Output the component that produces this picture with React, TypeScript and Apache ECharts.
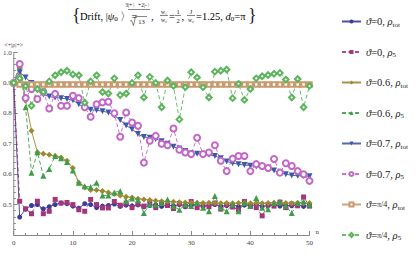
import React, { useEffect, useRef } from "react";
import * as echarts from "echarts";

const nValues = [0,1,2,3,4,5,6,7,8,9,10,11,12,13,14,15,16,17,18,19,20,21,22,23,24,25,26,27,28,29,30,31,32,33,34,35,36,37,38,39,40,41,42,43,44,45,46,47,48,49,50];

const theta0Tot = [0.9,0.459,0.485,0.497,0.5,0.486,0.493,0.5,0.505,0.503,0.495,0.488,0.503,0.5,0.49,0.495,0.497,0.502,0.494,0.498,0.496,0.499,0.493,0.497,0.5,0.494,0.498,0.496,0.5,0.493,0.497,0.499,0.494,0.497,0.5,0.495,0.497,0.499,0.494,0.498,0.496,0.5,0.494,0.497,0.499,0.495,0.498,0.496,0.499,0.494,0.497];
const theta0R5 = [0.9,0.511,0.486,0.47,0.511,0.47,0.478,0.517,0.505,0.507,0.5,0.483,0.478,0.517,0.5,0.489,0.489,0.51,0.498,0.505,0.49,0.502,0.495,0.508,0.49,0.505,0.497,0.487,0.503,0.495,0.51,0.49,0.5,0.493,0.505,0.485,0.5,0.492,0.483,0.51,0.497,0.49,0.463,0.5,0.495,0.508,0.49,0.502,0.496,0.525,0.495];
const theta06Tot = [0.9,0.95,0.842,0.743,0.672,0.667,0.664,0.66,0.655,0.644,0.62,0.572,0.556,0.548,0.548,0.545,0.54,0.535,0.53,0.526,0.523,0.519,0.517,0.515,0.513,0.511,0.51,0.509,0.508,0.507,0.506,0.506,0.505,0.506,0.505,0.504,0.505,0.504,0.505,0.506,0.504,0.505,0.504,0.505,0.506,0.504,0.505,0.504,0.506,0.504,0.505];
const theta06R5 = [0.9,0.957,0.82,0.605,0.672,0.595,0.617,0.66,0.652,0.64,0.612,0.572,0.56,0.558,0.572,0.53,0.53,0.54,0.545,0.512,0.52,0.515,0.472,0.5,0.5,0.505,0.517,0.495,0.483,0.5,0.495,0.505,0.49,0.478,0.528,0.49,0.478,0.5,0.478,0.505,0.495,0.522,0.49,0.485,0.505,0.51,0.495,0.472,0.505,0.51,0.5];
const theta07Tot = [0.9,0.935,0.918,0.9,0.878,0.862,0.855,0.852,0.85,0.847,0.843,0.83,0.818,0.812,0.81,0.807,0.803,0.793,0.778,0.76,0.748,0.732,0.722,0.72,0.716,0.708,0.7,0.69,0.684,0.676,0.668,0.667,0.666,0.664,0.66,0.652,0.642,0.636,0.633,0.63,0.628,0.625,0.622,0.618,0.612,0.605,0.6,0.596,0.595,0.594,0.593];
const theta07R5 = [0.9,0.962,0.85,0.88,0.847,0.87,0.816,0.864,0.825,0.825,0.858,0.85,0.82,0.789,0.83,0.836,0.838,0.8,0.723,0.803,0.77,0.759,0.638,0.71,0.726,0.7,0.695,0.75,0.68,0.671,0.666,0.72,0.666,0.671,0.695,0.644,0.61,0.651,0.66,0.66,0.61,0.633,0.627,0.62,0.65,0.605,0.636,0.627,0.61,0.6,0.578];
const thetaPi4Tot = [0.9,0.895,0.895,0.895,0.895,0.895,0.895,0.895,0.895,0.895,0.895,0.895,0.895,0.895,0.895,0.895,0.895,0.895,0.895,0.895,0.895,0.895,0.895,0.895,0.895,0.895,0.895,0.895,0.895,0.895,0.895,0.895,0.895,0.895,0.895,0.895,0.895,0.895,0.895,0.895,0.895,0.895,0.895,0.895,0.895,0.895,0.895,0.895,0.895,0.895,0.895];
const thetaPi4R5 = [0.9,0.915,0.89,0.825,0.88,0.87,0.905,0.925,0.935,0.94,0.928,0.925,0.835,0.905,0.925,0.87,0.865,0.915,0.86,0.865,0.9,0.925,0.852,0.92,0.9,0.82,0.908,0.89,0.78,0.886,0.935,0.918,0.886,0.852,0.937,0.94,0.944,0.85,0.897,0.844,0.88,0.915,0.922,0.926,0.93,0.933,0.911,0.852,0.913,0.82,0.89];

const seriesNames = ["ϑ=0, ρtot", "ϑ=0, ρ5", "ϑ=0.6, ρtot", "ϑ=0.6, ρ5", "ϑ=0.7, ρtot", "ϑ=0.7, ρ5", "ϑ=π/4, ρtot", "ϑ=π/4, ρ5"];
const xTicks = [0, 10, 20, 30, 40, 50];
const yTicks = [0.5, 0.6, 0.7, 0.8, 0.9, 1.0];

const serif = "'Liberation Serif', 'DejaVu Serif', 'Times New Roman', serif";

const styles = [
  { values: theta0Tot, color: "#3b3b9c", line: "solid", symbol: "circle", size: 5, rotate: 0 },
  { values: theta0R5, color: "#a3357a", line: "dashed", symbol: "rect", size: 5, rotate: 0 },
  { values: theta06Tot, color: "#9c8a32", line: "solid", symbol: "diamond", size: 6, rotate: 0 },
  { values: theta06R5, color: "#3e9e48", line: "dashed", symbol: "triangle", size: 6, rotate: 0 },
  { values: theta07Tot, color: "#3d5aa8", line: "solid", symbol: "triangle", size: 6, rotate: 180 },
  { values: theta07R5, color: "#c466c8", line: "dashed", symbol: "emptyCircle", size: 6, rotate: 0 },
  { values: thetaPi4Tot, color: "#c89a6e", line: "solid", symbol: "emptyRect", size: 4.5, rotate: 0 },
  { values: thetaPi4R5, color: "#5cb45c", line: "dashed", symbol: "emptyDiamond", size: 5.5, rotate: 0 },
];

function legendText(name: string): string {
  const parts = name.split(", ");
  const val = parts[0].slice(2);
  const sub = parts[1].slice(1);
  const valTok = val === "π/4" ? "{f|π/4}" : `{m|${val}}`;
  return `{i|ϑ}{m|=}${valTok}{m|, }{i|ρ}{s|${sub}}`;
}

export default function App() {
  const ref = useRef<HTMLDivElement>(null);
  useEffect(() => {
    document.body.style.margin = "0";
    if (!ref.current) return;
    const chart = echarts.init(ref.current, undefined, { renderer: "svg" });
    const richMain = {
      m: { fontFamily: serif, fontSize: 10.5, color: "#222", lineHeight: 13, verticalAlign: "middle" },
      i: { fontFamily: serif, fontSize: 10.5, fontStyle: "italic", color: "#222", lineHeight: 13, verticalAlign: "middle" },
      s: { fontFamily: serif, fontSize: 7, color: "#222", lineHeight: 13, verticalAlign: "bottom" },
      f: { fontFamily: serif, fontSize: 8, color: "#222", lineHeight: 13, verticalAlign: "middle" },
    };
    const small = (text: string, x: number, y: number, size = 6) => ({
      type: "text", x, y, silent: true,
      style: { text, fontFamily: serif, fontSize: size, fill: "#222", align: "center", verticalAlign: "middle" },
    });
    const bar = (x1: number, x2: number, y: number) => ({
      type: "line", silent: true, shape: { x1, y1: y, x2, y2: y }, style: { stroke: "#333", lineWidth: 0.6 },
    });
    const option: any = {
      animation: false,
      grid: { left: 13.5, right: 110.5, top: 52.5, bottom: 23 },
      xAxis: {
        type: "value", min: 0, max: 50, interval: 10,
        name: "n", nameLocation: "end", nameGap: 6,
        nameTextStyle: { fontFamily: serif, fontSize: 7, color: "#444", verticalAlign: "bottom" },
        axisLine: { show: true, lineStyle: { color: "#888", width: 1 } },
        axisTick: { show: true, inside: true, length: 4, lineStyle: { color: "#888" } },
        minorTick: { show: true, splitNumber: 5, length: 2, lineStyle: { color: "#888" } },
        splitLine: { show: false },
        axisLabel: {
          fontFamily: serif, fontSize: 7, color: "#444", margin: 4,
          formatter: (v: number) => (xTicks.includes(v) ? String(v) : ""),
        },
      },
      yAxis: {
        type: "value", min: 0.4, max: 1.0, interval: 0.1,
        name: "<+|ρ|+>", nameLocation: "end", nameGap: 5,
        nameTextStyle: { fontFamily: serif, fontSize: 6, color: "#444", align: "center" },
        axisLine: { show: true, lineStyle: { color: "#888", width: 1 } },
        axisTick: { show: true, inside: true, length: 4, lineStyle: { color: "#888" } },
        minorTick: { show: true, splitNumber: 5, length: 2, lineStyle: { color: "#888" } },
        splitLine: { show: false },
        axisLabel: {
          fontFamily: serif, fontSize: 7, color: "#444", margin: 2,
          formatter: (v: number) => {
            const r = Math.round(v * 10) / 10;
            return yTicks.some((t) => Math.abs(t - r) < 1e-6) && Math.abs(v - r) < 1e-6 ? r.toFixed(1) : "";
          },
        },
      },
      legend: {
        orient: "vertical", left: 336, top: 11,
        itemWidth: 19, itemHeight: 5, itemGap: 18.5,
        data: seriesNames,
        formatter: (name: string) => legendText(name),
        textStyle: { fontFamily: serif, fontSize: 10.5, color: "#222", rich: richMain },
      },
      graphic: [
        { type: "text", x: 72, y: 15, silent: true, style: { text: "{", fontFamily: serif, fontSize: 18, fill: "#222", verticalAlign: "middle" } },
        { type: "text", x: 80, y: 16, silent: true, style: { text: "{m|Drift, |}{i|ψ}{s|0}{m| 〉=}", rich: richMain, verticalAlign: "middle" } },
        small("3|+〉+2|-〉", 139, 5, 5.5),
        bar(128, 150, 9.5),
        { type: "polyline", silent: true, shape: { points: [[130, 21], [131.5, 20.3], [133.5, 25.5], [135.5, 16.5], [147, 16.5]] }, style: { stroke: "#333", lineWidth: 0.6, fill: "none" } },
        small("13", 141.5, 21.5, 6.5),
        { type: "text", x: 151, y: 16, silent: true, style: { text: "{m|, }", rich: richMain, verticalAlign: "middle" } },
        small("w₁", 164, 12, 5.5),
        bar(160, 168, 15.5),
        small("w₀", 164, 20, 5.5),
        { type: "text", x: 169, y: 16, silent: true, style: { text: "{m|=}", rich: richMain, verticalAlign: "middle" } },
        small("1", 178, 11.5, 6.5),
        bar(175, 181, 15.5),
        small("2", 178, 20.5, 6.5),
        { type: "text", x: 181.5, y: 16, silent: true, style: { text: "{m|, }", rich: richMain, verticalAlign: "middle" } },
        small("J", 191, 11.5, 6.5),
        bar(187, 195, 15.5),
        small("w₀", 191, 20, 5.5),
        { type: "text", x: 196, y: 16, silent: true, style: { text: "{m|=1.25, }{i|d}{s|0}{m|=π}", rich: richMain, verticalAlign: "middle" } },
        { type: "text", x: 248, y: 15, silent: true, style: { text: "}", fontFamily: serif, fontSize: 18, fill: "#222", verticalAlign: "middle" } },
      ],
      series: styles.map((s, k) => ({
        name: seriesNames[k],
        type: "line",
        data: nValues.map((n, i) => [n, s.values[i]]),
        symbol: s.symbol,
        symbolSize: s.size,
        symbolRotate: s.rotate,
        showSymbol: true,
        lineStyle: { color: s.color, width: k === 6 ? 2 : 1, type: s.line === "dashed" ? [4, 2.5] : "solid", opacity: 0.9 },
        itemStyle: { color: s.color, borderColor: s.color, borderWidth: s.symbol.startsWith("empty") ? 0.8 : 0 },
        emphasis: { disabled: true },
      })),
    };
    chart.setOption(option);
    return () => chart.dispose();
  }, []);
  return <div ref={ref} style={{ width: 420, height: 258 }} />;
}
